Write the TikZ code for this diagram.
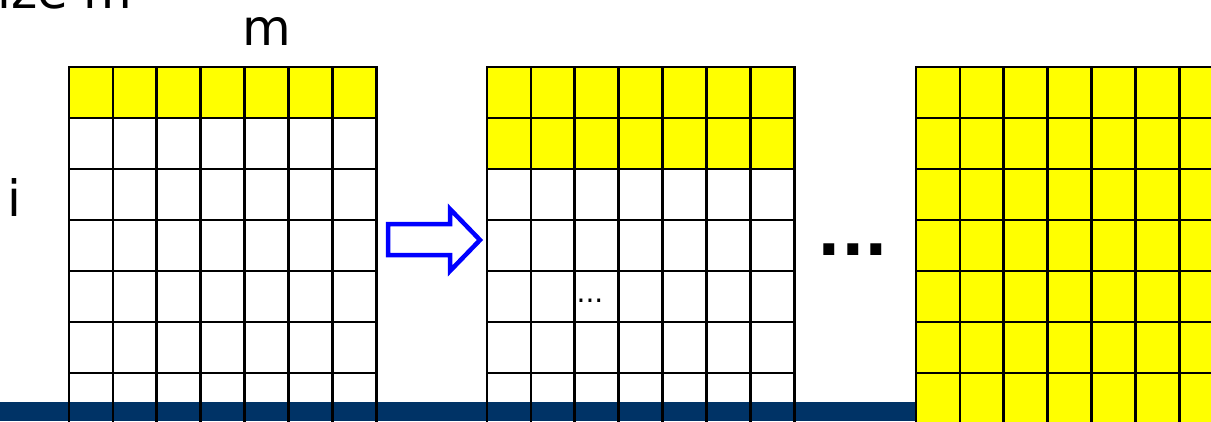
\documentclass[tikz,border=0pt]{standalone}
\usepackage{fontspec}
\setmainfont{DejaVu Sans}

\definecolor{barblue}{RGB}{0,51,102}
\definecolor{arrowblue}{RGB}{0,0,255}
\definecolor{doneyellow}{RGB}{255,255,0}

\begin{document}
\begin{tikzpicture}[x=1pt, y=-1pt, line join=miter,
    cell/.style={draw=black, line width=2.8pt},
    bigtxt/.style={inner sep=0pt, font=\fontsize{50}{50}\selectfont}]
    \useasboundingbox (0,0) rectangle (1211,421);
    % bottom bar
    \fill[barblue] (0,402) rectangle (1211,421);
    % grids: left x / filled rows
    \foreach \gx/\rows in {69/1, 487/2, 916/7} {
        \fill[doneyellow] (\gx,67) rectangle ++(7*43.9, \rows*51);
        \foreach \c in {0,...,6}
            \foreach \r in {0,...,6}
                \draw[cell] (\gx+\c*43.9, 67+\r*51) rectangle ++(43.9,51);
    }
    % labels
    \node[bigtxt, anchor=base west] (sizetxt) at (-3,8) {ize m};
    \node[bigtxt, anchor=base] (mtxt) at (267,45) {m};
    \node[bigtxt, anchor=base] (itxt) at (14.5,216) {i};
    % arrow
    \draw[arrowblue, line width=4.5pt, fill=white]
        (388,224) -- (450,224) -- (450,209) -- (480,240) -- (450,271)
        -- (450,255) -- (388,255) -- cycle;
    % dots
    \node[inner sep=0pt, font=\fontsize{28}{28}\selectfont] (fewdots) at (590,301) {...};
    \node[inner sep=0pt, font=\bfseries\fontsize{62}{62}\selectfont] (moredots) at (853,250) {...};
\end{tikzpicture}
\end{document}
